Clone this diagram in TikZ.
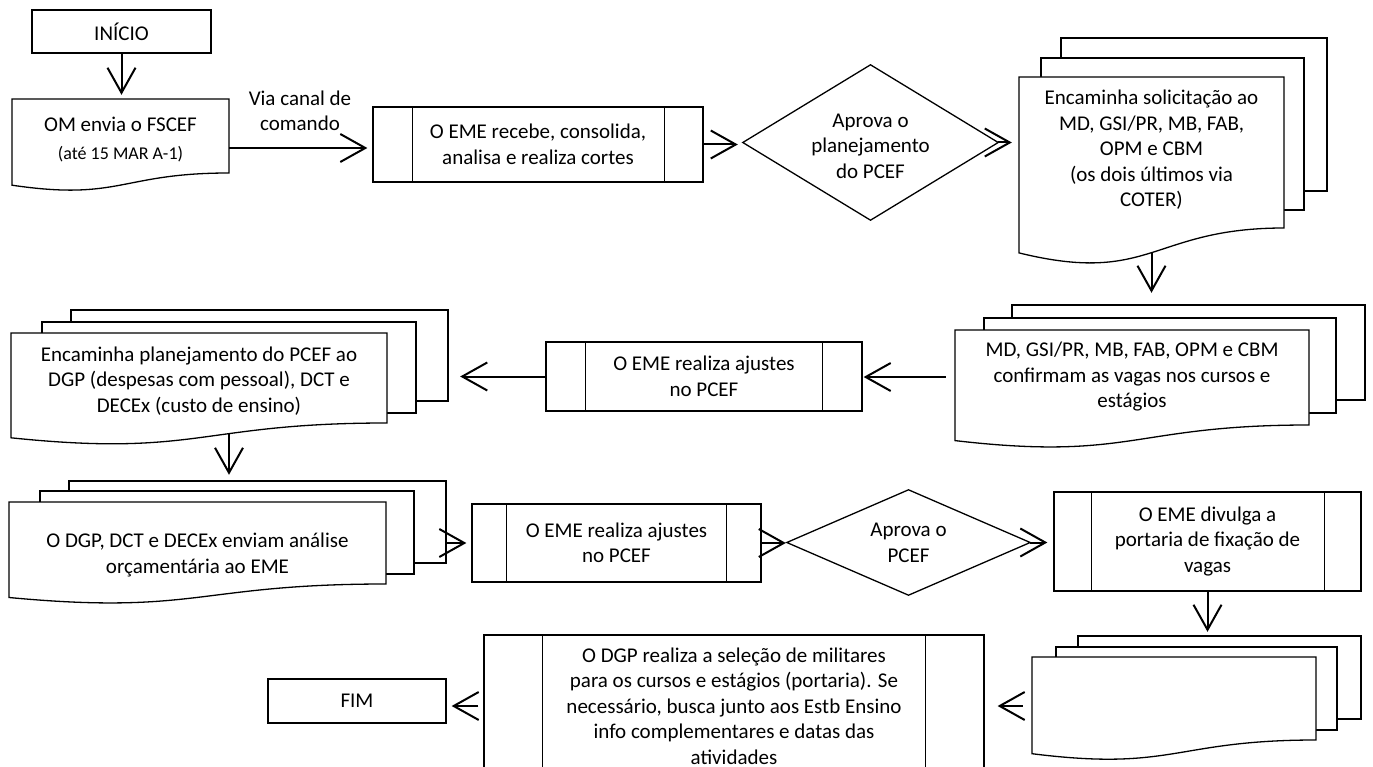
\documentclass[tikz,border=0pt]{standalone}
\usepackage{fontspec}
\setmainfont{Carlito}
\usetikzlibrary{arrows.meta,fit}
\begin{document}
\begin{tikzpicture}[x=1pt,y=-1pt,
  pg/.style={draw=black, fill=white, line width=1.3pt},
  sepline/.style={draw=black, line width=1.3pt},
  boxn/.style={draw=black, fill=white, line width=1.3pt, rectangle, inner sep=0pt, align=center, font=\fontsize{21}{25.5}\selectfont},
  txt/.style={inner sep=0pt, align=center, font=\fontsize{21}{25.5}\selectfont},
  bound/.style={inner sep=0pt, draw=none, rectangle},
  arr/.style={line width=2pt, -{Straight Barb[length=25pt,width=28pt]}},
]
\fill[white] (0,0) rectangle (1373,767);
\useasboundingbox (0,0) rectangle (1373,767);

% ---------- Row 1 ----------
\node[boxn, minimum width=179pt, minimum height=43pt] (ini) at (121.5,31.5) {INÍCIO};

\draw[pg] (12,99) -- (229,99) -- (229,173) .. controls (120.5,173) and (120.5,201.2) .. (12,185.2) -- cycle;
\node[bound, fit={(12,99) (229,197)}] (om) {};
\node[txt] (omt) at (120.5,140) {OM envia o FSCEF\\[2.5pt]{\fontsize{18}{22}\selectfont (até 15 MAR A-1)}};

\node[txt] (via) at (300,111) {Via canal de\\comando};

\node[boxn, minimum width=330pt, minimum height=75pt] (eme1) at (538,144.5) {O EME recebe, consolida,\\analisa e realiza cortes};
\draw[sepline] ([xshift=40pt]eme1.north west) -- ([xshift=40pt]eme1.south west);
\draw[sepline] ([xshift=-39pt]eme1.north east) -- ([xshift=-39pt]eme1.south east);

\node[bound, minimum width=255pt, minimum height=155pt] (d1) at (870.5,142.5) {};
\draw[pg] (d1.west) -- (d1.north) -- (d1.east) -- (d1.south) -- cycle;
\node[txt] (d1t) at (870.5,146) {Aprova o\\planejamento\\do PCEF};

% stack 1
\draw[pg] (1061,38) rectangle (1327,191);
\draw[pg] (1041,58) rectangle (1304,210);
\draw[pg] (1019,77) -- (1284,77) -- (1284,228) .. controls (1151.5,228) and (1151.5,285.5) .. (1019,252.9) -- cycle;
\node[bound, fit={(1019,38) (1327,265)}] (s1) {};
\node[txt] (s1t) at (1151.5,150) {Encaminha solicitação ao\\MD, GSI/PR, MB, FAB,\\OPM e CBM\\(os dois últimos via\\COTER)};
\coordinate (s1w) at (1151.5,252.7);

% ---------- Row 2 ----------
% stack 2
\draw[pg] (1012,305) rectangle (1365,400);
\draw[pg] (984,318) rectangle (1336,413);
\draw[pg] (955,330) -- (1309,330) -- (1309,425) .. controls (1132,425) and (1132,461.2) .. (955,440.6) -- cycle;
\node[bound, fit={(955,305) (1365,449)}] (s2) {};
\node[txt] (s2t) at (1132,377) {MD, GSI/PR, MB, FAB, OPM e CBM\\confirmam as vagas nos cursos e\\estágios};

\node[boxn, minimum width=316pt, minimum height=69pt] (box2) at (704,376.5) {O EME realiza ajustes\\no PCEF};
\draw[sepline] ([xshift=40pt]box2.north west) -- ([xshift=40pt]box2.south west);
\draw[sepline] ([xshift=-40pt]box2.north east) -- ([xshift=-40pt]box2.south east);

% stack 3
\draw[pg] (71,310) rectangle (448,401);
\draw[pg] (42,322) rectangle (416,413);
\draw[pg] (11,333) -- (387,333) -- (387,423) .. controls (199,423) and (199,457.3) .. (11,437.8) -- cycle;
\node[bound, fit={(11,310) (448,446)}] (s3) {};
\node[txt] (s3t) at (199,381) {Encaminha planejamento do PCEF ao\\DGP (despesas com pessoal), DCT e\\DECEx (custo de ensino)};
\coordinate (s3w) at (229,433.8);

% ---------- Row 3 ----------
% stack 4
\draw[pg] (69,481) rectangle (446,563);
\draw[pg] (40,491) rectangle (414,574);
\draw[pg] (9,502) -- (386,502) -- (386,584) .. controls (197.5,584) and (197.5,615.2) .. (9,597.5) -- cycle;
\node[bound, fit={(9,481) (446,605)}] (s4) {};
\node[txt] (s4t) at (197.5,555) {O DGP, DCT e DECEx enviam análise\\orçamentária ao EME};

\node[boxn, minimum width=289pt, minimum height=78pt] (box3) at (616.5,543) {O EME realiza ajustes\\no PCEF};
\draw[sepline] ([xshift=35pt]box3.north west) -- ([xshift=35pt]box3.south west);
\draw[sepline] ([xshift=-35pt]box3.north east) -- ([xshift=-35pt]box3.south east);

\node[bound, minimum width=243pt, minimum height=105pt] (d2) at (908.5,542.5) {};
\draw[pg] (d2.west) -- (d2.north) -- (d2.east) -- (d2.south) -- cycle;
\node[txt] (d2t) at (908.5,543) {Aprova o\\PCEF};

\node[boxn, minimum width=307pt, minimum height=99pt] (box4) at (1207.5,541.5) {O EME divulga a\\portaria de fixação de\\vagas};
\draw[sepline] ([xshift=38pt]box4.north west) -- ([xshift=38pt]box4.south west);
\draw[sepline] ([xshift=-37pt]box4.north east) -- ([xshift=-37pt]box4.south east);

% ---------- Row 4 ----------
% stack 5
\draw[pg] (1078,636) rectangle (1361,719);
\draw[pg] (1056,647) rectangle (1337,730);
\draw[pg] (1032,657) -- (1316,657) -- (1316,740) .. controls (1174,740) and (1174,771.6) .. (1032,753.7) -- cycle;
\node[bound, fit={(1032,636) (1361,761)}] (s5) {};

\node[boxn, minimum width=500pt, minimum height=142pt] (dgp) at (734,706) {O DGP realiza a seleção de militares\\para os cursos e estágios (portaria). Se\\necessário, busca junto aos Estb Ensino\\info complementares e datas das\\atividades};
\draw[sepline] ([xshift=59pt]dgp.north west) -- ([xshift=59pt]dgp.south west);
\draw[sepline] ([xshift=-59pt]dgp.north east) -- ([xshift=-59pt]dgp.south east);

\node[boxn, minimum width=178pt, minimum height=44pt] (fim) at (357,701) {FIM};

% ---------- Connectors ----------
\draw[arr, shorten >=4pt] (ini.south) -- (ini.south |- om.north);
\draw[arr, shorten >=5pt] (om.east) -- (om.east -| eme1.west);
\draw[arr, shorten >=5pt] (eme1.east) -- (eme1.east -| d1.west);
\draw[arr, shorten >=7pt] (d1.east) -- (d1.east -| s1.west);
\draw[arr, shorten >=12pt] (s1w) -- (s1w |- s2.north);
\draw[arr, shorten <=9pt, shorten >=1pt] (s2.west) -- (s2.west -| box2.east);
\draw[arr, shorten >=12pt] (box2.west) -- (box2.west -| s3.east);
\draw[arr, shorten >=6pt] (s3w) -- (s3w |- s4.north);
\draw[arr, shorten >=5pt] (s4.east) -- (s4.east -| box3.west);
\draw[arr, shorten >=1pt] (box3.east) -- (box3.east -| d2.west);
\draw[arr, shorten >=6pt] (d2.east) -- (d2.east -| box4.west);
\draw[arr, shorten >=4pt] (box4.south) -- (box4.south |- s5.north);
\draw[arr, shorten <=9pt, shorten >=13pt] (s5.west |- dgp.east) -- (dgp.east);
\draw[arr, shorten <=5pt, shorten >=5pt] (dgp.west) -- (dgp.west -| fim.east);
\end{tikzpicture}
\end{document}
